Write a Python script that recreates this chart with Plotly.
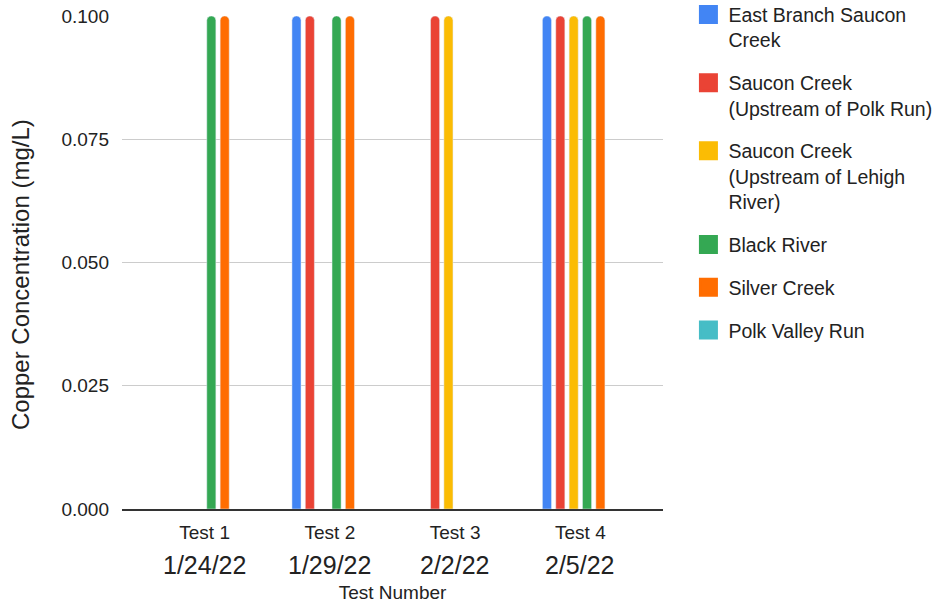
import plotly.graph_objects as go

tests = ["Test 1", "Test 2", "Test 3", "Test 4"]
dates = ["1/24/22", "1/29/22", "2/2/22", "2/5/22"]

series_names = [
    "East Branch Saucon Creek",
    "Saucon Creek (Upstream of Polk Run)",
    "Saucon Creek (Upstream of Lehigh River)",
    "Black River",
    "Silver Creek",
    "Polk Valley Run",
]
legend_labels = [
    "East Branch Saucon<br>Creek",
    "Saucon Creek<br>(Upstream of Polk Run)",
    "Saucon Creek<br>(Upstream of Lehigh<br>River)",
    "Black River",
    "Silver Creek",
    "Polk Valley Run",
]
east_branch = [None, 0.1, None, 0.1]
saucon_polk = [None, 0.1, 0.1, 0.1]
saucon_lehigh = [None, None, 0.1, 0.1]
black_river = [0.1, 0.1, None, 0.1]
silver_creek = [0.1, 0.1, None, 0.1]
polk_valley = [None, None, None, None]
values = [east_branch, saucon_polk, saucon_lehigh, black_river, silver_creek, polk_valley]
colors = ["#4285F4", "#EA4335", "#FBBC04", "#34A853", "#FF6D01", "#46BDC6"]

y_ticks = [0, 0.025, 0.05, 0.075, 0.1]
y_title = "Copper Concentration (mg/L)"
x_title = "Test Number"

FONT = "Liberation Sans, Arial, sans-serif"

fig = go.Figure()
for name, vals, col in zip(series_names, values, colors):
    fig.add_trace(go.Bar(x=tests, y=vals, name=name, marker_color=col,
                         showlegend=False))
for i, (lab, col) in enumerate(zip(legend_labels, colors)):
    fig.add_trace(go.Scatter(x=[None], y=[None], mode="markers", name=lab,
                             legendgroup=f"g{i}",
                             marker=dict(symbol="square", size=16, color=col,
                                         line=dict(color=col, width=3))))

for t, d in zip(tests, dates):
    fig.add_annotation(x=t, xref="x", y=-0.1136, yref="paper", text=d,
                       showarrow=False, yanchor="middle",
                       font=dict(size=25, color="#222", family=FONT))

fig.add_annotation(x=-0.1885, xref="paper", y=0.4746, yref="paper",
                   text=y_title, textangle=-90, showarrow=False,
                   xanchor="center", yanchor="middle",
                   font=dict(size=24, color="#222", family=FONT))

fig.update_layout(
    width=939, height=604,
    margin=dict(l=122, r=276, t=16, b=95, autoexpand=False),
    paper_bgcolor="white", plot_bgcolor="white",
    font=dict(family=FONT, size=19, color="#222"),
    barmode="group", bargap=0.36, bargroupgap=0.32,
    barcornerradius="50%",
    legend=dict(x=1.047, xanchor="left", y=1.042, yanchor="top",
                valign="top", tracegroupgap=14.5, traceorder="grouped",
                maxheight=600,
                font=dict(size=19.5, color="#222", family=FONT)),
    xaxis=dict(type="category", range=[-0.66, 3.66], showgrid=False,
               showline=True, linecolor="#333", linewidth=1.5,
               ticks="", ticklabelstandoff=5,
               title=dict(text=x_title, standoff=44,
                          font=dict(size=19))),
    yaxis=dict(range=[0, 0.1], tickvals=y_ticks, tickformat=".3f",
               showgrid=True, gridcolor="#cccccc", zeroline=False,
               ticks="", ticklabelstandoff=12),
)

fig.write_html("out.html")
